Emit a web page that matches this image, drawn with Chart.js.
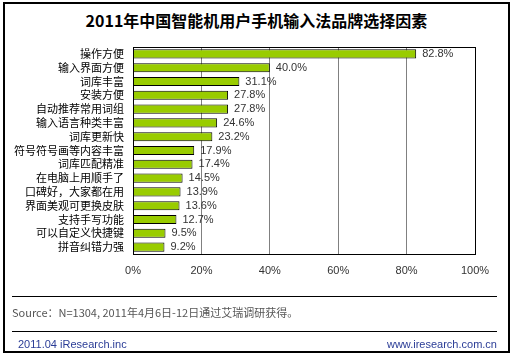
<!DOCTYPE html>
<html><head><meta charset="utf-8">
<script src="https://cdn.jsdelivr.net/npm/chart.js@4/dist/chart.umd.min.js"></script>
<style>
html,body{margin:0;padding:0;background:#fff;}
#wrap{position:relative;width:513px;height:358px;overflow:hidden;}
#frame{position:absolute;left:3px;top:2px;width:503px;height:347px;border:2px solid #000;box-sizing:content-box;}
#title{position:absolute;left:0;width:513px;top:9px;text-align:center;font:bold 16px "Noto Sans CJK SC",sans-serif;color:#000;line-height:22px;}
.hr{position:absolute;left:12px;width:485px;height:0;border-top:1px solid #000;}
#src{position:absolute;left:12px;top:304px;font:11px "Noto Sans CJK SC",sans-serif;color:#555;line-height:16px;}
#f1{position:absolute;left:18px;top:336px;font:11px "Liberation Sans",sans-serif;color:#2a3c96;line-height:16px;}
#f2{position:absolute;right:16px;top:336px;font:11px "Liberation Sans",sans-serif;color:#2a3c96;line-height:16px;}
canvas{position:absolute;left:0;top:0;}
</style></head>
<body><div id="wrap">
<div id="frame"></div>
<div id="title">2011年中国智能机用户手机输入法品牌选择因素</div>
<canvas id="c" width="513" height="358"></canvas>
<div class="hr" style="top:296px"></div>
<div id="src">Source：N=1304, 2011年4月6日-12日通过艾瑞调研获得。</div>
<div class="hr" style="top:331px"></div>
<div id="f1">2011.04 iResearch.inc</div>
<div id="f2">www.iresearch.com.cn</div>
</div>
<script>
const categories = ["操作方便","输入界面方便","词库丰富","安装方便","自动推荐常用词组","输入语言种类丰富","词库更新快","符号符号画等内容丰富","词库匹配精准","在电脑上用顺手了","口碑好，大家都在用","界面美观可更换皮肤","支持手写功能","可以自定义快捷键","拼音纠错力强"];
const values = [82.8,40.0,31.1,27.8,27.8,24.6,23.2,17.9,17.4,14.5,13.9,13.6,12.7,9.5,9.2];
const xTicks = [0,20,40,60,80,100];

const labelsPlugin = {
  id:'labels',
  afterDatasetsDraw(chart){
    const ctx = chart.ctx;
    const meta = chart.getDatasetMeta(0);
    ctx.save();
    ctx.font = '11px "Liberation Sans", sans-serif';
    ctx.fillStyle = '#333';
    ctx.textBaseline = 'middle';
    ctx.textAlign = 'left';
    meta.data.forEach((bar,i)=>{
      ctx.fillText(values[i].toFixed(1)+'%', bar.x+6, bar.y);
    });
    const a = chart.chartArea;
    ctx.strokeStyle = '#000';
    ctx.lineWidth = 1;
    ctx.strokeRect(Math.round(a.left)+0.5, Math.round(a.top)+0.5, Math.round(a.right-a.left), Math.round(a.bottom-a.top));
    ctx.restore();
  }
};

new Chart(document.getElementById('c'), {
  type:'bar',
  data:{labels:categories, datasets:[{data:values, backgroundColor:'#99cc00', borderColor:'#000', borderWidth:1, barPercentage:0.66, categoryPercentage:1}]},
  options:{
    indexAxis:'y', responsive:false, animation:false,
    layout:{padding:{left:0,right:38,top:47,bottom:0}},
    plugins:{legend:{display:false}, tooltip:{enabled:false}},
    scales:{
      x:{min:0,max:100,
        afterBuildTicks(s){ s.ticks = xTicks.map(v=>({value:v})); },
        afterFit(s){ s.height = 104; },
        grid:{color:'#808080', drawTicks:false, lineWidth:1},
        border:{color:'#000'},
        ticks:{padding:10, color:'#333', font:{family:'"Liberation Sans", sans-serif', size:11}, callback:v=>v+'%'}
      },
      y:{
        afterFit(s){ s.width = 133; },
        grid:{display:false, drawTicks:false},
        border:{color:'#000'},
        ticks:{padding:9, autoSkip:false, color:'#000', font:{family:'"Noto Sans CJK SC", sans-serif', size:11}}
      }
    }
  },
  plugins:[labelsPlugin]
});
</script>
</body></html>
